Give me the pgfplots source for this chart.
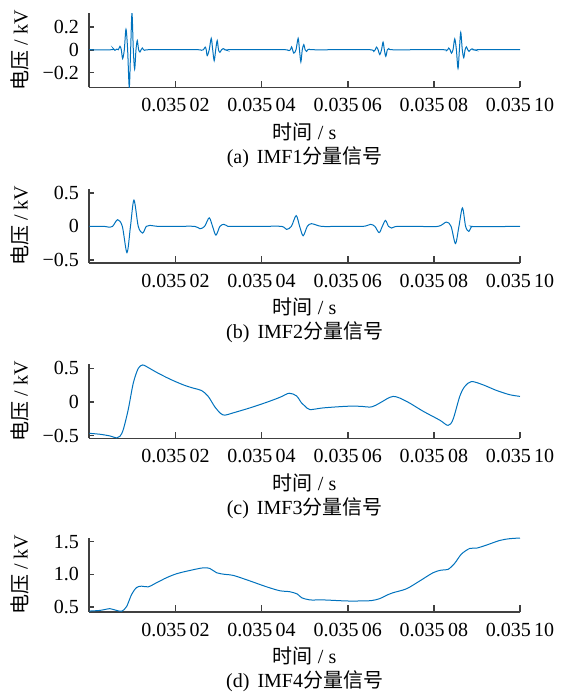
\documentclass[border=0pt]{standalone}
\usepackage{fontspec}
\setmainfont{Liberation Serif}
\newfontfamily\cjk{Noto Sans CJK SC}
\usepackage{pgfplots}
\pgfplotsset{compat=1.18}
\definecolor{matblue}{RGB}{0,114,189}
\pgfplotsset{imf/.style={
  scale only axis, width=215.35pt, height=37pt,
  axis lines*=left, axis line style={-, line width=0.8pt, black!75},
  xmin=0, xmax=100, enlargelimits=false,
  xtick={20,40,60,80,100},
  xticklabels={0.035\,02,0.035\,04,0.035\,06,0.035\,08,0.035\,10},
  tick style={black!75, line width=0.8pt},
  xtick style={/pgfplots/major tick length=3.2pt},
  ytick style={/pgfplots/major tick length=2.5pt},
  xticklabel style={yshift=-2pt},
  yticklabel style={xshift=-1.7pt},
  xlabel={{\cjk 时间} / s},
  ylabel={{\cjk 电压} / kV},
  every axis x label/.style={at={(axis description cs:0.5,0)}, anchor=center, yshift=-22.1pt},
  every axis y label/.style={at={(axis description cs:0,0.5)}, anchor=center, xshift=-34.6pt, rotate=90},
  every axis title/.style={at={(axis description cs:0.5,0)}, anchor=center, yshift=-34.9pt},
}}
\tikzset{sig/.style={matblue, line width=0.5pt, smooth}}
\begin{document}
\begin{tikzpicture}
\path[use as bounding box] (-44.65pt,0pt) rectangle (237.85pt,-348pt);
% (a)
\begin{axis}[imf, at={(0pt,-43.65pt)}, anchor=south west,
  ymin=-0.33, ymax=0.32, ytick={-0.2,0,0.2}, yticklabels={−0.2,0,0.2},
  title={(a)\hspace{0.4em}IMF1{\cjk 分量信号}}]
\addplot[sig] coordinates {(0,0) (5.2,0) (5.57,0.01) (5.96,-0.005) (6.35,0.005) (6.75,0) (7.12,0.03) (7.43,0) (7.74,-0.078) (8.13,0) (8.52,0.18) (8.9,0) (9.28,-0.33) (9.6,0) (9.91,0.32) (10.22,0) (10.53,-0.17) (10.84,0) (11.14,0.08) (11.45,0) (11.76,-0.02) (12.03,0) (12.30,0.015) (12.76,-0.005) (13.7,0) (20,0) (25.3,0) (26.0,-0.005) (26.5,0) (26.91,0.023) (27.15,0) (27.38,-0.052) (27.85,0) (28.31,0.10) (28.65,0) (29.0,-0.096) (29.35,0) (29.70,0.08) (30.0,0) (30.32,-0.023) (30.7,0) (31.09,0.01) (31.72,-0.003) (32.3,0) (40,0) (45.4,0) (46.0,-0.003) (46.4,-0.008) (46.7,0) (46.96,0.025) (47.2,0) (47.49,-0.03) (48.0,0) (48.49,0.10) (48.8,0) (49.12,-0.107) (49.45,0) (49.81,0.045) (50.1,0) (50.44,-0.015) (50.75,0) (51.04,0.005) (51.83,0) (58,0) (65.2,0) (66.06,-0.015) (66.4,0) (66.68,0.023) (67.05,0) (67.45,-0.043) (67.85,0) (68.21,0.067) (68.5,0) (68.84,-0.058) (69.2,0) (69.53,0.01) (70.2,0) (76,0) (82.3,0) (82.92,-0.008) (83.2,0) (83.46,0.015) (83.77,0) (84.08,-0.03) (84.45,0) (84.85,0.095) (85.23,0) (85.61,-0.165) (85.93,0) (86.24,0.153) (86.6,0) (86.94,-0.07) (87.25,0) (87.56,0.025) (87.86,0) (88.17,-0.015) (88.5,0) (88.86,0.008) (89.49,-0.003) (90.2,0) (100,0)};
\end{axis}
% (b)
\begin{axis}[imf, at={(0pt,-131.35pt)}, anchor=south west,
  ymin=-0.54, ymax=0.56, ytick={-0.5,0,0.5}, yticklabels={−0.5,0,0.5},
  title={(b)\hspace{0.4em}IMF2{\cjk 分量信号}}]
\addplot[sig] coordinates {(0,0) (3.5,0) (4.41,-0.01) (5.4,0) (6.58,0.10) (7.67,0) (8.75,-0.39) (9.56,0) (10.37,0.39) (11.37,0) (12.38,-0.10) (13.23,0) (14.08,0.015) (16,0) (20,0) (24.5,0) (25.69,-0.035) (26.77,0) (27.84,0.127) (28.62,0) (29.40,-0.13) (30.33,0) (31.25,0.03) (32.2,0) (33.04,0) (40,0) (44.64,0) (45.80,-0.045) (46.92,0) (48.03,0.16) (48.84,0) (49.65,-0.14) (50.62,0) (51.60,0.04) (53.92,0) (58,0) (63.57,0) (65.29,0.03) (66.3,0) (67.29,-0.093) (68.03,0) (68.77,0.088) (69.47,0) (70.16,-0.025) (71.46,0) (76,0) (80.97,0) (82.92,0.064) (84.0,0) (85.01,-0.255) (85.82,0) (86.64,0.275) (87.37,0) (88.10,-0.074) (88.8,0) (89.49,-0.005) (100,0)};
\end{axis}
% (c)
\begin{axis}[imf, at={(0pt,-219.15pt)}, anchor=south west,
  ymin=-0.54, ymax=0.56, ytick={-0.5,0,0.5}, yticklabels={−0.5,0,0.5},
  title={(c)\hspace{0.4em}IMF3{\cjk 分量信号}}]
\addplot[sig] coordinates {(0,-0.466) (2.48,-0.48) (4.80,-0.505) (6.35,-0.535) (7.12,-0.51) (7.89,-0.41) (9.05,-0.11) (10.21,0.28) (11.37,0.50) (12.38,0.55) (13.32,0.525) (15.64,0.44) (18.72,0.34) (21.81,0.255) (24.13,0.206) (26.08,0.17) (27.61,0.083) (29.16,-0.074) (30.49,-0.17) (31.48,-0.196) (33.41,-0.162) (37.29,-0.088) (41.16,-0.005) (44.25,0.069) (46.4,0.13) (48.11,0.09) (49.28,-0.015) (50.05,-0.06) (51.21,-0.113) (54.29,-0.088) (59.72,-0.064) (62.81,-0.064) (65.52,-0.074) (67.45,-0.015) (70.53,0.083) (73.64,0.01) (77.49,-0.137) (81.37,-0.27) (83.29,-0.348) (84.45,-0.26) (86.01,0.083) (87.17,0.23) (88.72,0.304) (91.42,0.255) (94.52,0.172) (97.61,0.108) (100,0.083)};
\end{axis}
% (d)
\begin{axis}[imf, at={(0pt,-305.85pt)}, anchor=south west,
  ymin=0.43, ymax=1.56, ytick={0.5,1.0,1.5}, yticklabels={0.5,1.0,1.5},
  title={(d)\hspace{0.4em}IMF4{\cjk 分量信号}}]
\addplot[sig] coordinates {(0,0.44) (2.48,0.45) (4.80,0.477) (5.96,0.457) (7.51,0.437) (8.67,0.51) (9.83,0.695) (10.99,0.80) (12.15,0.82) (13.69,0.81) (15.64,0.873) (17.96,0.95) (20.28,1.01) (23.36,1.06) (26.45,1.10) (28.00,1.09) (29.56,1.025) (31.48,1.0) (33.41,0.985) (37.29,0.90) (41.16,0.81) (44.25,0.75) (46.57,0.735) (48.3,0.70) (49.28,0.645) (51.21,0.61) (54.29,0.61) (59.72,0.594) (62.81,0.594) (65.52,0.6) (67.45,0.63) (69.0,0.68) (70.53,0.72) (73.64,0.78) (76.73,0.90) (79.81,1.025) (81.76,1.066) (83.29,1.076) (84.85,1.17) (86.40,1.31) (88.33,1.396) (89.88,1.40) (92.20,1.447) (95.29,1.518) (97.61,1.545) (100,1.555)};
\end{axis}
\end{tikzpicture}
\end{document}
